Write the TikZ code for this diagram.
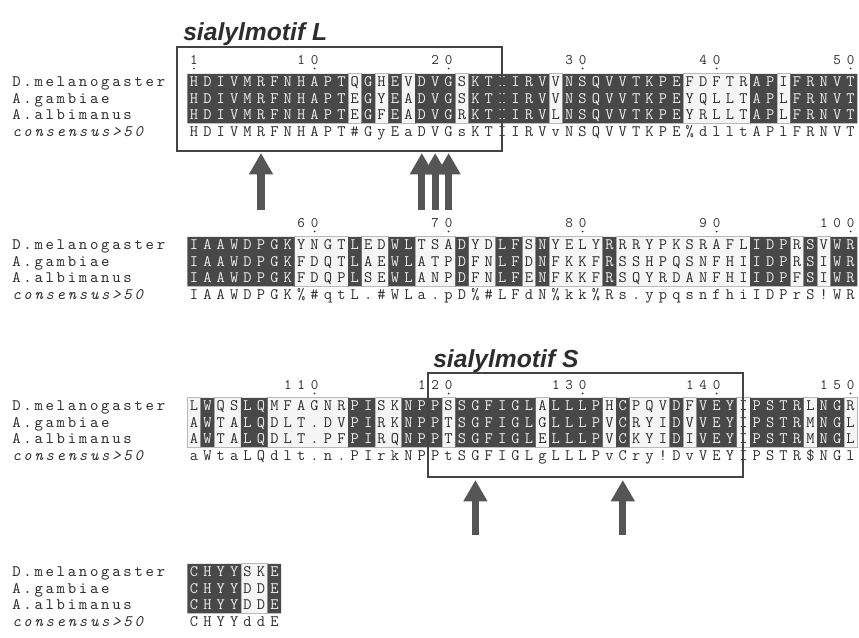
\documentclass[tikz,border=0pt]{standalone}
\usepackage{fontspec}
\setsansfont{Liberation Sans}
\newfontfamily\labfont{lmmono10-regular.otf}[ItalicFont=lmmono10-italic.otf, LetterSpace=17]
\usetikzlibrary{arrows.meta}
\definecolor{inkgray}{RGB}{45,45,45}
\definecolor{cellgray}{RGB}{72,72,72}
\definecolor{cellwhite}{RGB}{236,236,236}
\definecolor{boxgray}{RGB}{68,68,68}
\definecolor{arrowgray}{RGB}{85,85,85}
\tikzstyle{res} = [anchor=base, inner sep=0pt, text=inkgray, font=\ttfamily\fontsize{12}{14}\selectfont]
\tikzstyle{numlab} = [anchor=base, inner sep=0pt, text=inkgray, font=\ttfamily\fontsize{11}{13}\selectfont]
\tikzstyle{seqlabel} = [anchor=base west, inner sep=0pt, text=inkgray, font=\labfont\fontsize{12}{14}\selectfont]
\tikzstyle{motiftitle} = [anchor=base west, inner sep=0pt, text=inkgray, font=\sffamily\bfseries\itshape\fontsize{18.5}{22}\selectfont]
\tikzstyle{darkcell} = [fill=cellgray]
\tikzstyle{lightcell} = [fill=gray!8, draw=gray!55, line width=0.5pt]
\tikzstyle{motifbox} = [draw=boxgray, line width=2.1pt]
\tikzstyle{motifarrow} = [-{Triangle[width=17pt, length=16pt]}, line width=5.5pt, arrowgray]

% x of alignment column #1 (one unit = one pixel)
\newcommand{\colx}[1]{#1*13.4+180.6}

% a line of residues: name, y, residues
\newcommand{\seqrow}[3]{%
  \foreach \rr [count=\i] in {#3} {\node[res] (#1-\i) at ({\colx{\i}}, #2+4.5) {\rr};}}

% shaded column ranges: style, top, bottom, ranges
\newcommand{\cells}[4]{%
  \path[#1] \foreach \a/\b in {#4} {({\colx{\a}-6.7}, #2) rectangle ({\colx{\b}+6.7}, #3)};}

% numbering above a block: name, y, column/digit, ticks
\newcommand{\ruler}[4]{%
  \foreach \c/\d in {#3} {\node[numlab] (#1-\c) at ({\colx{\c}}, #2+4) {\d};}
  \foreach \c in {#4} {\fill[inkgray] ({\colx{\c}}, #2+8.5) circle (0.7pt);}}

% sequence names: name, y of first line
\newcommand{\seqlabels}[2]{%
  \foreach \t [count=\k] in {D.melanogaster, A.gambiae, A.albimanus}
    {\node[seqlabel] (#1-\k) at (12, {#2+16.5*(\k-1)+4.5}) {\t};}
  \node[seqlabel] (#1-4) at (12, #2+54) {\itshape consensus>50};}

\newcommand{\rowsone}{%
  \seqrow{melA}{82}{H,D,I,V,M,R,F,N,H,A,P,T,Q,G,H,E,V,D,V,G,S,K,T,I,I,R,V,V,N,S,Q,V,V,T,K,P,E,F,D,F,T,R,A,P,I,F,R,N,V,T}
  \seqrow{gamA}{98.5}{H,D,I,V,M,R,F,N,H,A,P,T,E,G,Y,E,A,D,V,G,S,K,T,I,I,R,V,V,N,S,Q,V,V,T,K,P,E,Y,Q,L,L,T,A,P,L,F,R,N,V,T}
  \seqrow{albA}{115}{H,D,I,V,M,R,F,N,H,A,P,T,E,G,F,E,A,D,V,G,R,K,T,I,I,R,V,L,N,S,Q,V,V,T,K,P,E,Y,R,L,L,T,A,P,L,F,R,N,V,T}}
\newcommand{\rowstwo}{%
  \seqrow{melB}{245}{I,A,A,W,D,P,G,K,Y,N,G,T,L,E,D,W,L,T,S,A,D,Y,D,L,F,S,N,Y,E,L,Y,R,R,R,Y,P,K,S,R,A,F,L,I,D,P,R,S,V,W,R}
  \seqrow{gamB}{261.5}{I,A,A,W,D,P,G,K,F,D,Q,T,L,A,E,W,L,A,T,P,D,F,N,L,F,D,N,F,K,K,F,R,S,S,H,P,Q,S,N,F,H,I,I,D,P,R,S,I,W,R}
  \seqrow{albB}{278}{I,A,A,W,D,P,G,K,F,D,Q,P,L,S,E,W,L,A,N,P,D,F,N,L,F,E,N,F,K,K,F,R,S,Q,Y,R,D,A,N,F,H,I,I,D,P,F,S,I,W,R}}
\newcommand{\rowsthree}{%
  \seqrow{melC}{406}{L,W,Q,S,L,Q,M,F,A,G,N,R,P,I,S,K,N,P,P,S,S,G,F,I,G,L,A,L,L,L,P,H,C,P,Q,V,D,F,V,E,Y,I,P,S,T,R,L,N,G,R}
  \seqrow{gamC}{422.5}{A,W,T,A,L,Q,D,L,T,.,D,V,P,I,R,K,N,P,P,T,S,G,F,I,G,L,G,L,L,L,P,V,C,R,Y,I,D,V,V,E,Y,I,P,S,T,R,M,N,G,L}
  \seqrow{albC}{439}{A,W,T,A,L,Q,D,L,T,.,P,F,P,I,R,Q,N,P,P,T,S,G,F,I,G,L,E,L,L,L,P,V,C,K,Y,I,D,I,V,E,Y,I,P,S,T,R,M,N,G,L}}
\newcommand{\rowsfour}{%
  \seqrow{melD}{572}{C,H,Y,Y,S,K,E}
  \seqrow{gamD}{588.5}{C,H,Y,Y,D,D,E}
  \seqrow{albD}{605}{C,H,Y,Y,D,D,E}}

\begin{document}
\begin{tikzpicture}[x=0.75pt, y=-0.75pt]
    \useasboundingbox (0,0) rectangle (859,637);

    % Residues 1-50
    \node[motiftitle] (titleL) at (183,40) {sialylmotif L};
    \ruler{numA}{60}{1/1,9/1,10/0,19/2,20/0,29/3,30/0,39/4,40/0,49/5,50/0}{1,10,20,30,40,50}
    \seqlabels{labA}{82}
    \cells{lightcell}{73.75}{123.25}{13/13,15/15,17/17,21/21,28/28,38/42,45/45}
    \rowsone
    \begin{scope}
        \cells{clip}{73.75}{123.25}{1/12,14/14,16/16,18/20,22/27,29/37,43/44,46/50}
        \fill[darkcell] (150,0) rectangle (859,637);
        \tikzset{res/.append style={text=cellwhite}}
        \rowsone
    \end{scope}
    \seqrow{consA}{131.5}{H,D,I,V,M,R,F,N,H,A,P,T,\#,G,y,E,a,D,V,G,s,K,T,I,I,R,V,v,N,S,Q,V,V,T,K,P,E,\%,d,l,l,t,A,P,l,F,R,N,V,T}
    \draw[motifbox] (177,47) rectangle (502,151);
    \foreach \c in {6,18,19,20} \draw[motifarrow] ({\colx{\c}},210) -- ({\colx{\c}},153);

    % Residues 51-100
    \ruler{numB}{223}{9/6,10/0,19/7,20/0,29/8,30/0,39/9,40/0,48/1,49/0,50/0}{10,20,30,40,50}
    \seqlabels{labB}{245}
    \cells{lightcell}{236.75}{286.25}{9/12,14/15,18/20,22/23,26/26,28/31,33/42,46/46,48/48}
    \rowstwo
    \begin{scope}
        \cells{clip}{236.75}{286.25}{1/8,13/13,16/17,21/21,24/25,27/27,32/32,43/45,47/47,49/50}
        \fill[darkcell] (150,0) rectangle (859,637);
        \tikzset{res/.append style={text=cellwhite}}
        \rowstwo
    \end{scope}
    \seqrow{consB}{294.5}{I,A,A,W,D,P,G,K,\%,\#,q,t,L,.,\#,W,L,a,.,p,D,\%,\#,L,F,d,N,\%,k,k,\%,R,s,.,y,p,q,s,n,f,h,i,I,D,P,r,S,!,W,R}

    % Residues 101-150
    \node[motiftitle] (titleS) at (433,367) {sialylmotif S};
    \ruler{numC}{385}{8/1,9/1,10/0,18/1,19/2,20/0,28/1,29/3,30/0,38/1,39/4,40/0,48/1,49/5,50/0}{10,20,30,40,50}
    \seqlabels{labC}{406}
    \cells{lightcell}{397.75}{447.25}{1/1,3/4,7/12,15/16,20/20,27/27,32/32,34/36,38/38,42/42,47/47,50/50}
    \rowsthree
    \begin{scope}
        \cells{clip}{397.75}{447.25}{2/2,5/6,13/14,17/19,21/26,28/31,33/33,37/37,39/41,43/46,48/49}
        \fill[darkcell] (150,0) rectangle (859,637);
        \tikzset{res/.append style={text=cellwhite}}
        \rowsthree
    \end{scope}
    \seqrow{consC}{455.5}{a,W,t,a,L,Q,d,l,t,.,n,.,P,I,r,k,N,P,P,t,S,G,F,I,G,L,g,L,L,L,P,v,C,r,y,!,D,v,V,E,Y,I,P,S,T,R,\$,N,G,l}
    \draw[motifbox] (428,373) rectangle (743,477);
    \foreach \c in {22,33} \draw[motifarrow] ({\colx{\c}},535) -- ({\colx{\c}},480);

    % Residues 151-157
    \seqlabels{labD}{572}
    \cells{lightcell}{563.75}{613.25}{5/6}
    \rowsfour
    \begin{scope}
        \cells{clip}{563.75}{613.25}{1/4,7/7}
        \fill[darkcell] (150,0) rectangle (859,637);
        \tikzset{res/.append style={text=cellwhite}}
        \rowsfour
    \end{scope}
    \seqrow{consD}{621.5}{C,H,Y,Y,d,d,E}
\end{tikzpicture}
\end{document}
